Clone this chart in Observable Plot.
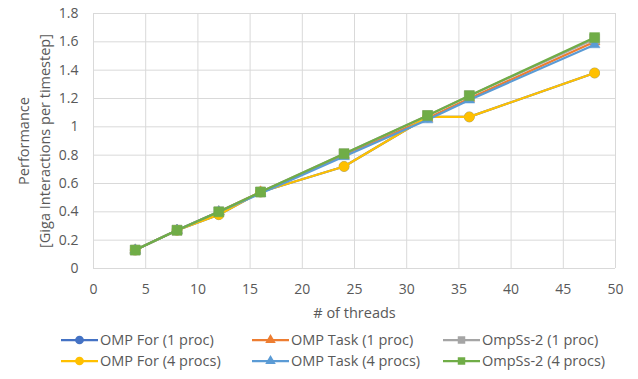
<!DOCTYPE html>
<html>
<head>
<meta charset="utf-8">
<script src="https://cdn.jsdelivr.net/npm/d3@7"></script>
<script src="https://cdn.jsdelivr.net/npm/@observablehq/plot@0.6"></script>
<style>
  body { margin: 0; background: #fff; font-family: "Open Sans", Lato, sans-serif; }
  #chart { position: relative; width: 638px; height: 379px; overflow: hidden; }
  #chart > svg { display: block; }
  .legend { display: grid; grid-template-columns: 191px 191px 191px; grid-auto-rows: 21px; padding-left: 61px; margin-top: 4px; }
  .item { display: flex; align-items: center; height: 21px; font-size: 14.5px; color: #595959; white-space: nowrap; }
  .item svg { margin-right: 2px; flex: none; }
</style>
</head>
<body>
<div id="chart"></div>
<script>
const threads = [4, 8, 12, 16, 24, 32, 36, 48];
const ompFor1 = [0.13, 0.27, 0.38, 0.54, 0.72, 1.07, 1.07, 1.38];
const ompTask1 = [0.13, 0.27, 0.40, 0.54, 0.80, 1.06, 1.20, 1.60];
const ompss1 = [0.13, 0.27, 0.40, 0.54, 0.81, 1.08, 1.22, 1.62];
const ompFor4 = [0.13, 0.27, 0.38, 0.54, 0.72, 1.07, 1.07, 1.38];
const ompTask4 = [0.13, 0.27, 0.40, 0.53, 0.79, 1.05, 1.19, 1.58];
const ompss4 = [0.13, 0.27, 0.40, 0.54, 0.81, 1.08, 1.22, 1.63];

const seriesNames = ["OMP For (1 proc)", "OMP Task (1 proc)", "OmpSs-2 (1 proc)",
                     "OMP For (4 procs)", "OMP Task (4 procs)", "OmpSs-2 (4 procs)"];
const seriesValues = [ompFor1, ompTask1, ompss1, ompFor4, ompTask4, ompss4];
const seriesColors = ["#4472C4", "#ED7D31", "#A5A5A5", "#FFC000", "#5B9BD5", "#70AD47"];
const seriesSymbols = ["circle", "triangle", "square", "circle", "triangle", "square"];
const xTicks = [0, 5, 10, 15, 20, 25, 30, 35, 40, 45, 50];
const yTicks = [0, 0.2, 0.4, 0.6, 0.8, 1, 1.2, 1.4, 1.6, 1.8];
const xTitle = "# of threads";
const yTitle = "Performance\n[Giga Interactions per timestep]";

const rows = seriesNames.flatMap((name, i) =>
  threads.map((t, j) => ({series: name, idx: i, threads: t, value: seriesValues[i][j]})));

const symSize = {circle: 5, triangle: 4, square: 5.6};
const marks = [
  Plot.gridX(xTicks, {stroke: "#d9d9d9", strokeOpacity: 1, strokeWidth: 1}),
  Plot.gridY(yTicks, {stroke: "#d9d9d9", strokeOpacity: 1, strokeWidth: 1}),
  Plot.axisX(xTicks, {tickSize: 0, tickPadding: 16, fontSize: 14, color: "#595959", label: null}),
  Plot.axisY(yTicks, {tickSize: 0, tickPadding: 15, fontSize: 14, color: "#595959", label: null,
    tickFormat: d => String(+d.toFixed(1))}),
  Plot.text([xTitle], {frameAnchor: "bottom", dy: 49, fontSize: 14.5, fill: "#595959"}),
  Plot.text([yTitle], {frameAnchor: "left", rotate: -90, dx: -60.5, fontSize: 14.5, lineHeight: 1.45, fill: "#595959", textAnchor: "middle"})
];
seriesNames.forEach((name, i) => {
  const d = rows.filter(r => r.idx === i);
  marks.push(Plot.line(d, {x: "threads", y: "value", stroke: seriesColors[i], strokeWidth: 2.25}));
  marks.push(Plot.dot(d, {x: "threads", y: "value", fill: seriesColors[i], stroke: seriesColors[i], strokeWidth: 0.5,
    symbol: seriesSymbols[i], r: symSize[seriesSymbols[i]]}));
});

const plot = Plot.plot({
  width: 638,
  height: 325,
  marginLeft: 93,
  marginRight: 23,
  marginTop: 13,
  marginBottom: 57,
  style: {fontFamily: "'Open Sans', Lato, sans-serif", background: "#fff"},
  x: {domain: [0, 50], axis: null},
  y: {domain: [0, 1.8], axis: null},
  marks
});
const chart = document.getElementById("chart");
chart.appendChild(plot);

const legend = document.createElement("div");
legend.className = "legend";
const symPath = {
  circle: d3.symbol(d3.symbolCircle, 60)(),
  triangle: d3.symbol(d3.symbolTriangle, 48)(),
  square: d3.symbol(d3.symbolSquare, 56)()
};
seriesNames.forEach((name, i) => {
  const item = document.createElement("div");
  item.className = "item";
  item.innerHTML = `<svg width="37" height="14"><line x1="0" x2="37" y1="7" y2="7" stroke="${seriesColors[i]}" stroke-width="2.25"/><path transform="translate(18.5,7)" d="${symPath[seriesSymbols[i]]}" fill="${seriesColors[i]}"/></svg><span>${name}</span>`;
  legend.appendChild(item);
});
chart.appendChild(legend);
</script>
</body>
</html>
